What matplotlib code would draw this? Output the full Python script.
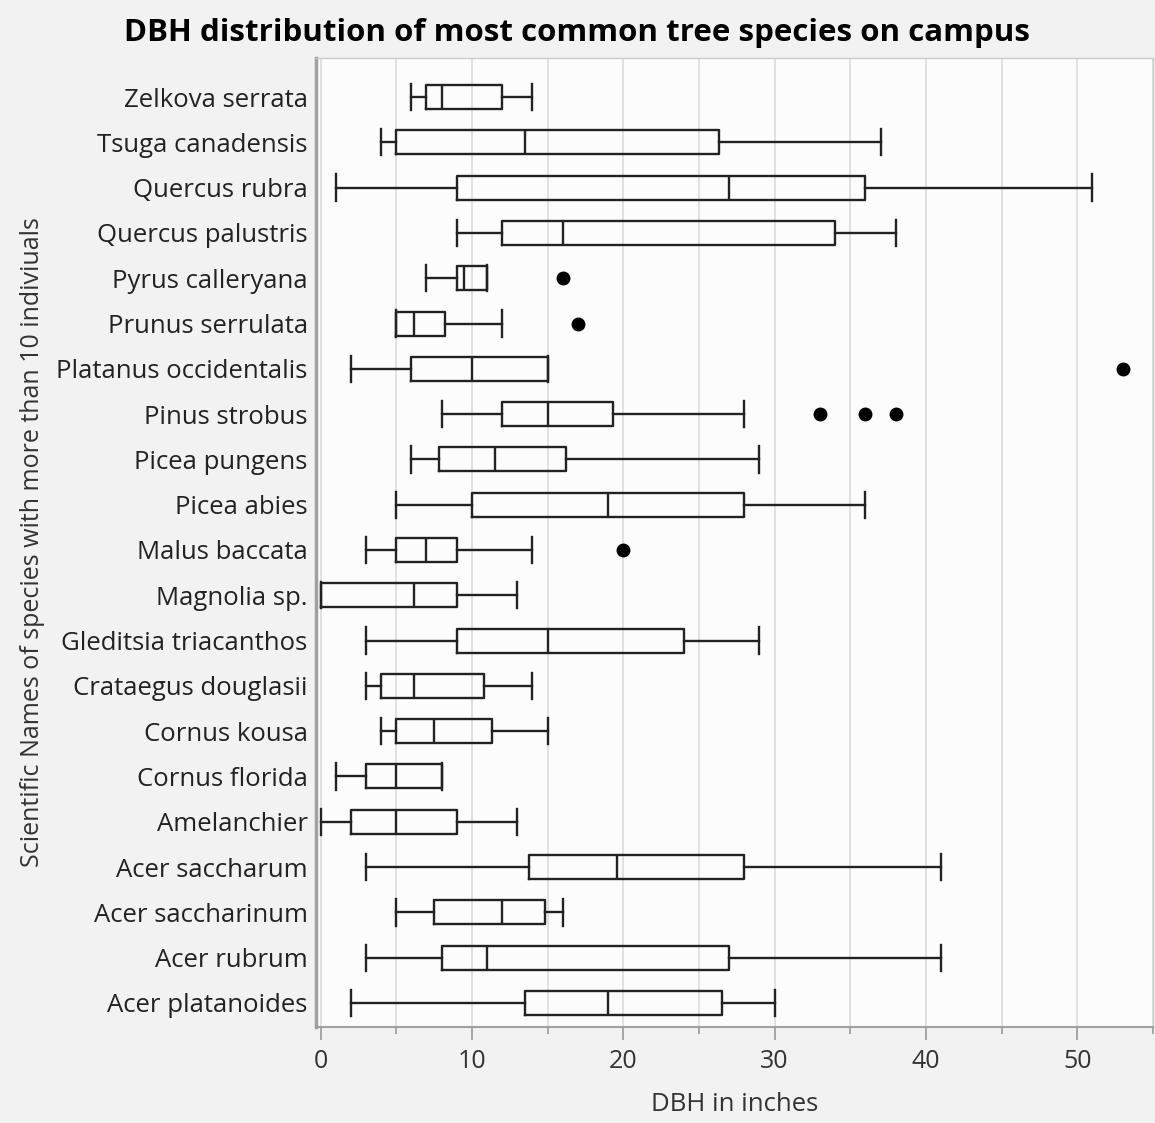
import matplotlib.pyplot as plt
from matplotlib.ticker import MultipleLocator

# species, bottom to top
species = ['Acer platanoides', 'Acer rubrum', 'Acer saccharinum', 'Acer saccharum',
           'Amelanchier', 'Cornus florida', 'Cornus kousa', 'Crataegus douglasii',
           'Gleditsia triacanthos', 'Magnolia sp.', 'Malus baccata', 'Picea abies',
           'Picea pungens', 'Pinus strobus', 'Platanus occidentalis', 'Prunus serrulata',
           'Pyrus calleryana', 'Quercus palustris', 'Quercus rubra', 'Tsuga canadensis',
           'Zelkova serrata']
whis_lo = [2, 3, 5, 3, 0, 1, 4, 3, 3, 0, 3, 5, 6, 8, 2, 5, 7, 9, 1, 4, 6]
q1 = [13.5, 8, 7.5, 13.8, 2, 3, 5, 4, 9, 0, 5, 10, 7.8, 12, 6, 5, 9, 12, 9, 5, 7]
med = [19, 11, 12, 19.6, 5, 5, 7.5, 6.2, 15, 6.2, 7, 19, 11.5, 15, 10, 6.2, 9.5, 16, 27, 13.5, 8]
q3 = [26.5, 27, 14.8, 28, 9, 8, 11.3, 10.8, 24, 9, 9, 28, 16.2, 19.3, 15, 8.2, 11, 34, 36, 26.3, 12]
whis_hi = [30, 41, 16, 41, 13, 8, 15, 14, 29, 13, 14, 36, 29, 28, 15, 12, 11, 38, 51, 37, 14]
outliers = [[], [], [], [], [], [], [], [], [], [], [20], [], [], [33, 36, 38], [53], [17],
            [16], [], [], [], []]

stats = []
for i in range(len(species)):
    stats.append({'whislo': whis_lo[i], 'q1': q1[i], 'med': med[i], 'q3': q3[i],
                  'whishi': whis_hi[i], 'fliers': outliers[i], 'label': species[i]})

plt.rcParams['font.family'] = ['Open Sans', 'DejaVu Sans']

fig = plt.figure(figsize=(11.55, 11.23), dpi=100, facecolor='#f2f2f2')
ax = fig.add_axes([0.2736, 0.0855, 0.7246, 0.8628])
ax.set_facecolor('#fdfcfd')

ln = dict(color='#222222', linewidth=1.7)
ax.bxp(stats, positions=range(len(species)), orientation='horizontal', widths=0.53,
       boxprops=ln, medianprops=ln, whiskerprops=ln, capprops=ln,
       flierprops=dict(marker='o', markerfacecolor='black', markeredgecolor='black',
                       markersize=9),
       capwidths=0.58)

ax.set_xlim(-0.3, 55)
ax.set_ylim(-0.53, len(species) - 0.14)
ax.xaxis.set_major_locator(MultipleLocator(10))
ax.xaxis.set_minor_locator(MultipleLocator(5))
ax.grid(True, axis='x', which='both', color='#dcdcdc', linewidth=1.2)
ax.set_axisbelow(True)

ax.tick_params(axis='x', which='major', length=9, width=1.2, color='#999999',
               labelsize=18, labelcolor='#333333', pad=7)
ax.tick_params(axis='x', which='minor', length=5, width=1.2, color='#999999')
ax.tick_params(axis='y', length=0, labelsize=18.5, labelcolor='#222222', pad=6)

for side in ['top', 'right']:
    ax.spines[side].set_color('#cccccc')
    ax.spines[side].set_linewidth(1.0)
ax.spines['left'].set_color('#a0a0a0')
ax.spines['left'].set_linewidth(2.5)
ax.spines['bottom'].set_color('#a0a0a0')
ax.spines['bottom'].set_linewidth(1.5)

ax.set_xlabel('DBH in inches', fontsize=18.5, color='#333333', labelpad=13)
ax.set_ylabel('Scientific Names of species with more than 10 indiviuals', fontsize=18,
              color='#333333', labelpad=8)
fig.suptitle('DBH distribution of most common tree species on campus', fontsize=22.5,
             fontweight='bold', x=0.5, y=0.984)

fig.savefig('out.png', dpi=100, facecolor=fig.get_facecolor())
